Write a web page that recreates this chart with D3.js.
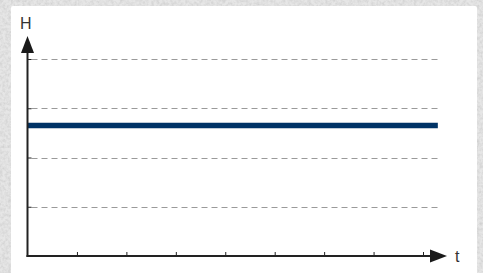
<!DOCTYPE html>
<html>
<head>
<meta charset="utf-8">
<script src="https://cdn.jsdelivr.net/npm/d3@7"></script>
<style>
  body { margin: 0; padding: 0; background: #d4d4d4; }
  svg { display: block; }
  .grid line { stroke: #9a9a9a; stroke-width: 1; stroke-dasharray: 6,4; }
  .axis path, .axis line { stroke: #222; }
  .lbl { font-family: "Liberation Sans", Arial, sans-serif; font-size: 16px; fill: #333; }
</style>
</head>
<body>
<div id="chartArea"></div>
<script>
// data setup
var gridLevels = [1, 2, 3, 4];
var tickTimes = [1, 2, 3, 4, 5, 6, 7, 8];
var lineTimes = [0, 8.3];
var lineLevel = [2.65, 2.65];

var W = 483, H = 273;

// set the dimensions of the graph
var origin = { x: 27.5, y: 256 };
var x = d3.scaleLinear().domain([0, 8]).range([origin.x, 423]);
var y = d3.scaleLinear().domain([0, 4]).range([origin.y, 59]);

var svg = d3.select("#chartArea").append("svg")
  .attr("width", W)
  .attr("height", H);

// stone-like texture behind the panel
var defs = svg.append("defs");
var f = defs.append("filter").attr("id", "stone")
  .attr("x", 0).attr("y", 0).attr("width", "100%").attr("height", "100%");
f.append("feTurbulence")
  .attr("type", "fractalNoise")
  .attr("baseFrequency", 0.35)
  .attr("numOctaves", 3)
  .attr("seed", 4)
  .attr("result", "noise");
f.append("feColorMatrix")
  .attr("in", "noise")
  .attr("type", "matrix")
  .attr("values", "0 0 0 0 0.55  0 0 0 0 0.55  0 0 0 0 0.55  0 0 0 -1.1 0.72");

svg.append("rect").attr("width", W).attr("height", H).attr("fill", "#e6e6e6");
svg.append("rect").attr("width", W).attr("height", H).attr("filter", "url(#stone)");

// white panel
svg.append("rect")
  .attr("x", 11).attr("y", 6)
  .attr("width", 466).attr("height", 280)
  .attr("rx", 2)
  .attr("fill", "#fff");

// dashed gridlines
svg.append("g").attr("class", "grid")
  .selectAll("line")
  .data(gridLevels)
  .enter()
  .append("line")
  .attr("x1", x(0) + 4)
  .attr("x2", x(8.3))
  .attr("y1", function(d) { return Math.round(y(d)) + 0.5; })
  .attr("y2", function(d) { return Math.round(y(d)) + 0.5; });

// the level line
var valueline = d3.line()
  .x(function(d) { return x(d); })
  .y(function(d, i) { return y(lineLevel[i]); });

svg.append("path")
  .data([lineTimes])
  .attr("fill", "none")
  .attr("stroke", "#003366")
  .attr("stroke-width", 5.5)
  .attr("d", valueline);

// Add the X Axis (ticks pointing up)
svg.append("g")
  .attr("class", "axis")
  .attr("transform", "translate(0," + origin.y + ")")
  .call(d3.axisTop(x).tickValues(tickTimes).tickSize(4).tickSizeOuter(0).tickFormat(""))
  .call(function(g) { g.select(".domain").remove(); });

// Add the Y Axis (ticks pointing right)
svg.append("g")
  .attr("class", "axis")
  .attr("transform", "translate(" + origin.x + ",0)")
  .call(d3.axisRight(y).tickValues(gridLevels).tickSize(4).tickSizeOuter(0).tickFormat(""))
  .call(function(g) { g.select(".domain").remove(); });

// axis lines with arrows
svg.append("line")
  .attr("x1", origin.x).attr("y1", origin.y + 1)
  .attr("x2", origin.x).attr("y2", 50)
  .attr("stroke", "#222").attr("stroke-width", 2);
svg.append("line")
  .attr("x1", origin.x - 1).attr("y1", origin.y)
  .attr("x2", 433).attr("y2", origin.y)
  .attr("stroke", "#222").attr("stroke-width", 2);

svg.append("path")
  .attr("d", "M" + origin.x + ",36 L" + (origin.x + 6.5) + ",53 L" + (origin.x - 6.5) + ",53 Z")
  .attr("fill", "#1a1a1a");
svg.append("path")
  .attr("d", "M447," + origin.y + " L430," + (origin.y - 6.5) + " L430," + (origin.y + 6.5) + " Z")
  .attr("fill", "#1a1a1a");

// axis labels
svg.append("text").attr("class", "lbl")
  .attr("x", 20).attr("y", 29)
  .text("H");
svg.append("text").attr("class", "lbl")
  .attr("x", 455).attr("y", 262)
  .text("t");
</script>
</body>
</html>
